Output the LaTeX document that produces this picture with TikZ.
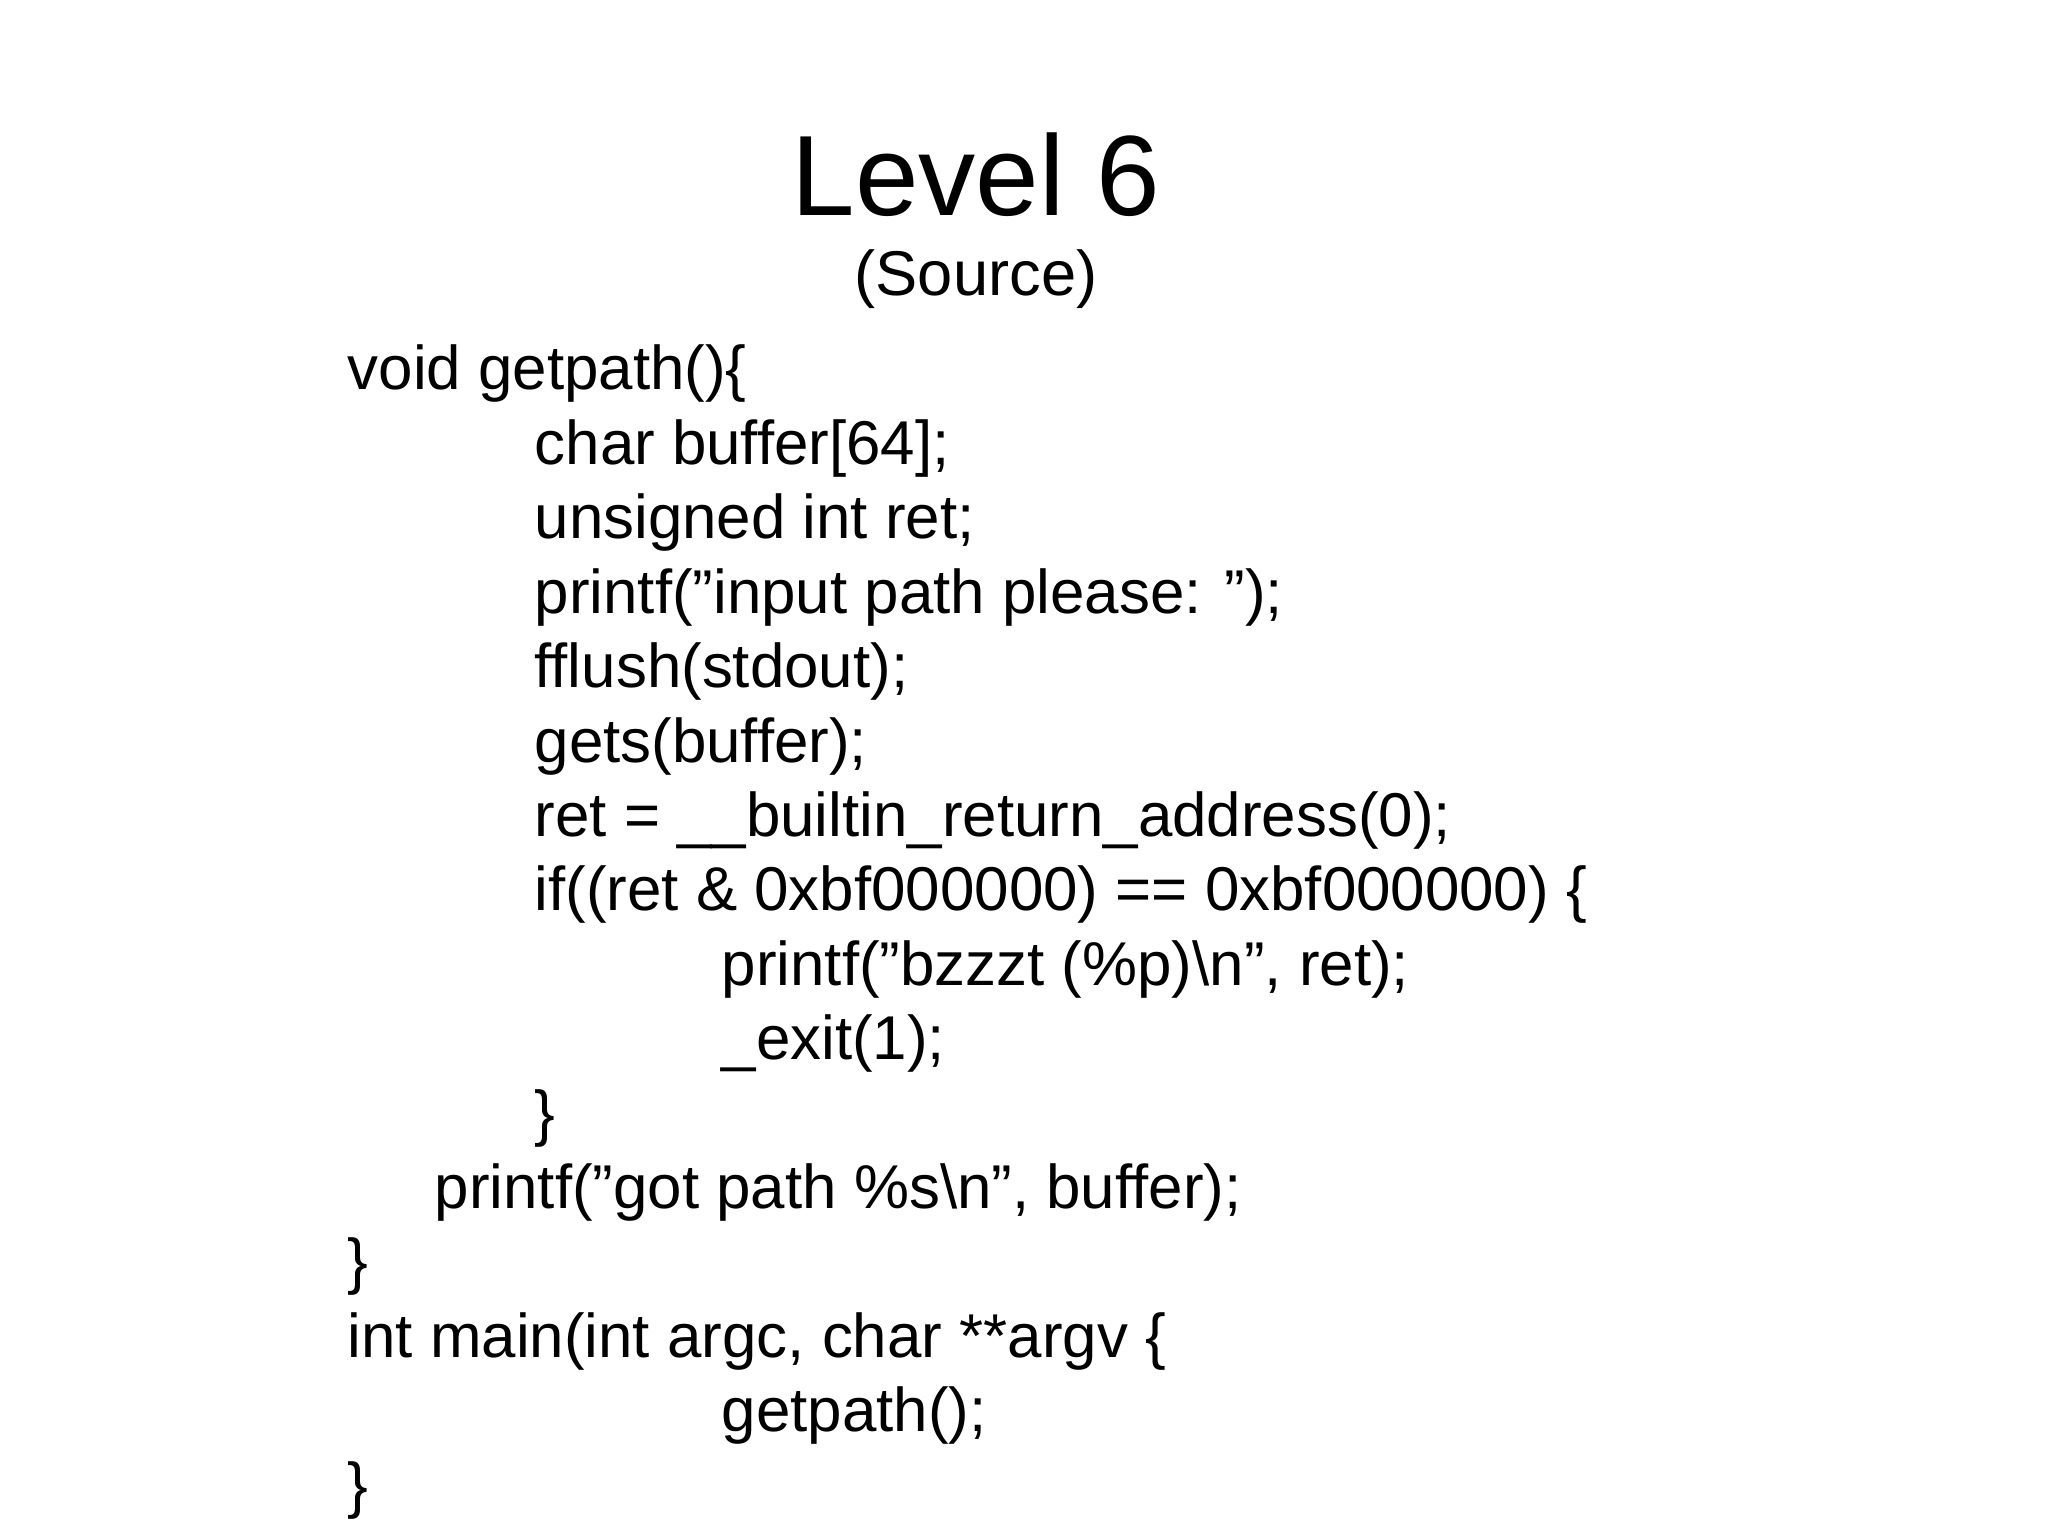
\documentclass[tikz,border=0pt]{standalone}
\usepackage{fontspec}
\setmainfont{Liberation Sans}
\newcommand{\dq}{\symbol{34}}
\begin{document}
\begin{tikzpicture}[x=1cm,y=1cm,
  code/.style={anchor=base west,inner sep=0pt,font=\fontsize{17.6}{21}\selectfont}]
\useasboundingbox (0,0) rectangle (20.48,-15.36);
\node[anchor=base,inner sep=0pt,font=\fontsize{32.5}{38}\selectfont] (title) at (9.76,-2.16) {Level 6};
\node[anchor=base,inner sep=0pt,font=\fontsize{18}{21}\selectfont] (sub) at (9.76,-2.96) {(Source)};
\def\L{3.47}\def\I{5.34}\def\J{7.21}\def\K{4.34}
\foreach \x/\i/\t [count=\n] in {
 \L/0/{void getpath()\{},
 \I/1/{char buffer[64];},
 \I/2/{unsigned int ret;},
 \I/3/{printf(\dq input path please: \dq);},
 \I/4/{fflush(stdout);},
 \I/5/{gets(buffer);},
 \I/6/{ret = \_\_builtin\_return\_address(0);},
 \I/7/{if((ret \& 0xbf000000) == 0xbf000000) \{},
 \J/8/{printf(\dq bzzzt (\%p)\textbackslash n\dq, ret);},
 \J/9/{\_exit(1);},
 \I/10/{\}},
 \K/11/{printf(\dq got path \%s\textbackslash n\dq, buffer);},
 \L/12/{\}},
 \L/13/{int main(int argc, char **argv \{},
 \J/14/{getpath();},
 \L/15/{\}}}
 \node[code] (l\n) at (\x,{-3.90-0.744*\i}) {\t};
\end{tikzpicture}
\end{document}
